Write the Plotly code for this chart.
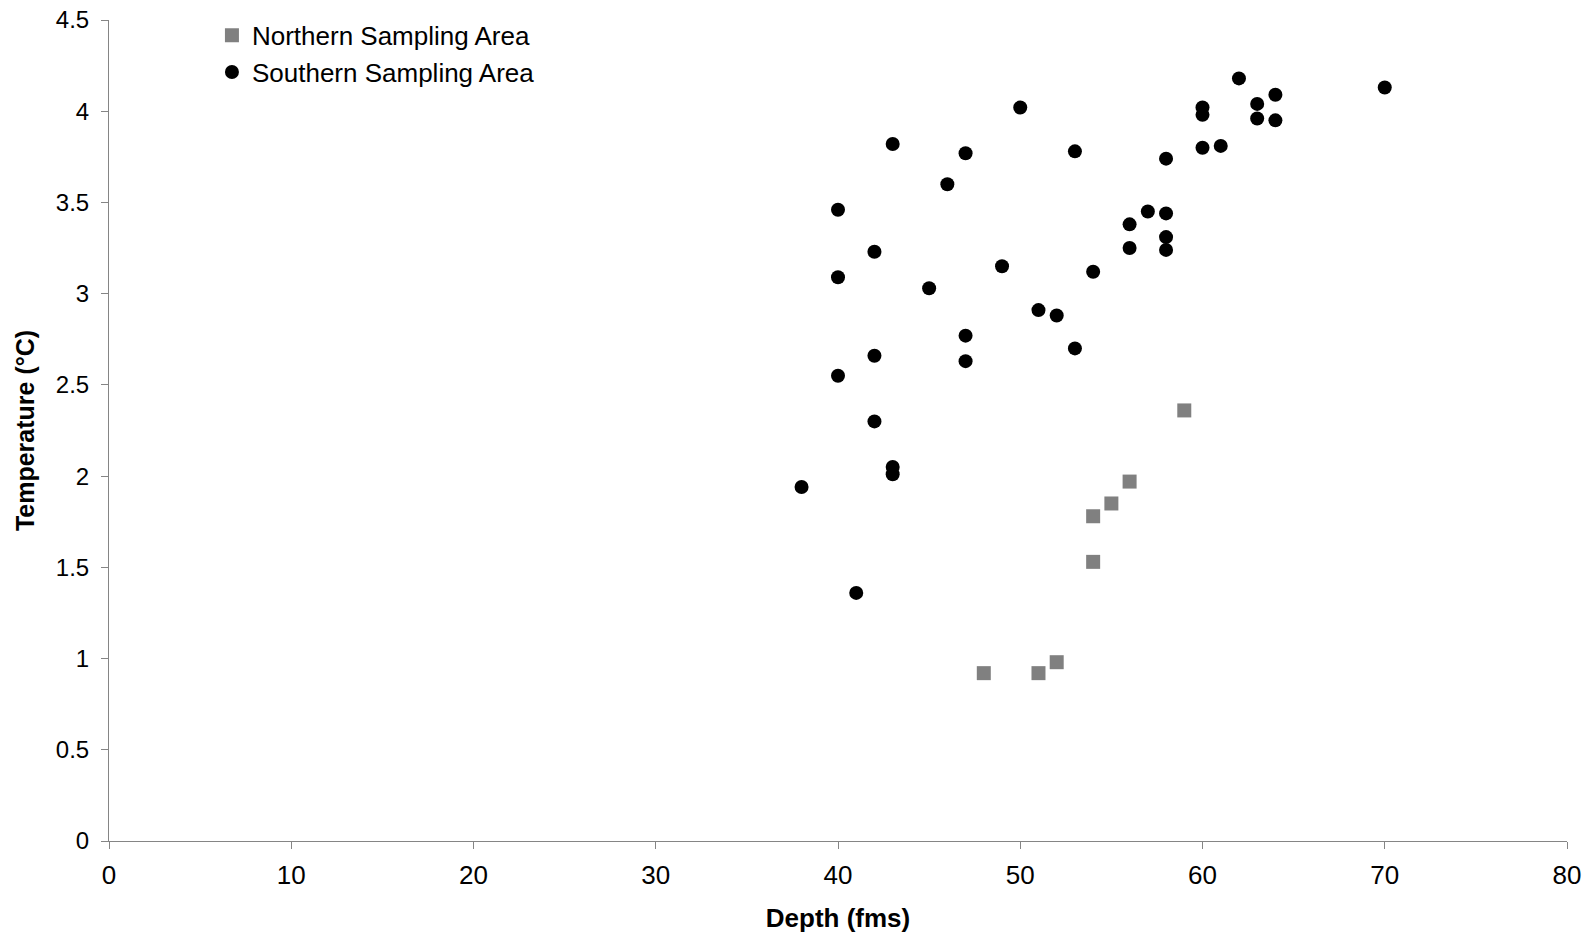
import plotly.graph_objects as go

north_depth = [48, 51, 52, 54, 54, 55, 56, 59]
north_temp = [0.92, 0.92, 0.98, 1.53, 1.78, 1.85, 1.97, 2.36]

south_depth = [38, 40, 40, 40, 41, 42, 42, 42, 43, 43, 43, 45, 46, 47, 47, 47,
               49, 50, 51, 52, 53, 53, 54, 56, 56, 57, 58, 58, 58, 58,
               60, 60, 60, 61, 62, 63, 63, 64, 64, 70]
south_temp = [1.94, 3.46, 3.09, 2.55, 1.36, 3.23, 2.66, 2.30, 3.82, 2.05, 2.01, 3.03, 3.60, 3.77, 2.77, 2.63,
              3.15, 4.02, 2.91, 2.88, 3.78, 2.70, 3.12, 3.38, 3.25, 3.45, 3.74, 3.44, 3.31, 3.24,
              4.02, 3.98, 3.80, 3.81, 4.18, 4.04, 3.96, 4.09, 3.95, 4.13]

x_title = "Depth (fms)"
y_title = "Temperature (°C)"

FONT = "Liberation Sans, Arial, sans-serif"
AXIS_COLOR = "#858585"

fig = go.Figure()
fig.add_trace(go.Scatter(
    x=north_depth, y=north_temp, mode="markers", name="Northern Sampling Area",
    marker=dict(symbol="square", size=14, color="#808080"),
    legendgroup="n",
))
fig.add_trace(go.Scatter(
    x=south_depth, y=south_temp, mode="markers", name="Southern Sampling Area",
    marker=dict(symbol="circle", size=14, color="#000000"),
    legendgroup="s",
))

fig.update_layout(
    width=1589, height=935,
    margin=dict(l=109, r=22, t=20, b=94, autoexpand=False),
    paper_bgcolor="white", plot_bgcolor="white",
    font=dict(family=FONT, size=22, color="#000000"),
    showlegend=True,
    legend=dict(
        x=0.0706, y=1.01, xanchor="left", yanchor="top",
        font=dict(family=FONT, size=26, color="#000000"),
        bgcolor="rgba(0,0,0,0)", traceorder="grouped", tracegroupgap=0,
    ),
    xaxis=dict(
        range=[0, 80], dtick=10, tick0=0, automargin=False,
        showgrid=False, zeroline=False,
        showline=True, linecolor=AXIS_COLOR, linewidth=1,
        ticks="outside", ticklen=7, tickcolor=AXIS_COLOR, tickwidth=1,
        tickfont=dict(family=FONT, size=26, color="#000000"),
        ticklabelstandoff=4,
        title=dict(text="<b>" + x_title + "</b>", font=dict(family=FONT, size=26, color="#000000"), standoff=19),
    ),
    yaxis=dict(
        range=[0, 4.5], dtick=0.5, tick0=0, automargin=False,
        showgrid=False, zeroline=False,
        showline=True, linecolor=AXIS_COLOR, linewidth=1,
        ticks="outside", ticklen=7, tickcolor=AXIS_COLOR, tickwidth=1,
        tickfont=dict(family=FONT, size=24, color="#000000"),
        ticklabelstandoff=7,
        title=dict(text="<b>" + y_title + "</b>", font=dict(family=FONT, size=25, color="#000000"), standoff=14),
    ),
)

fig.write_html("out.html")
